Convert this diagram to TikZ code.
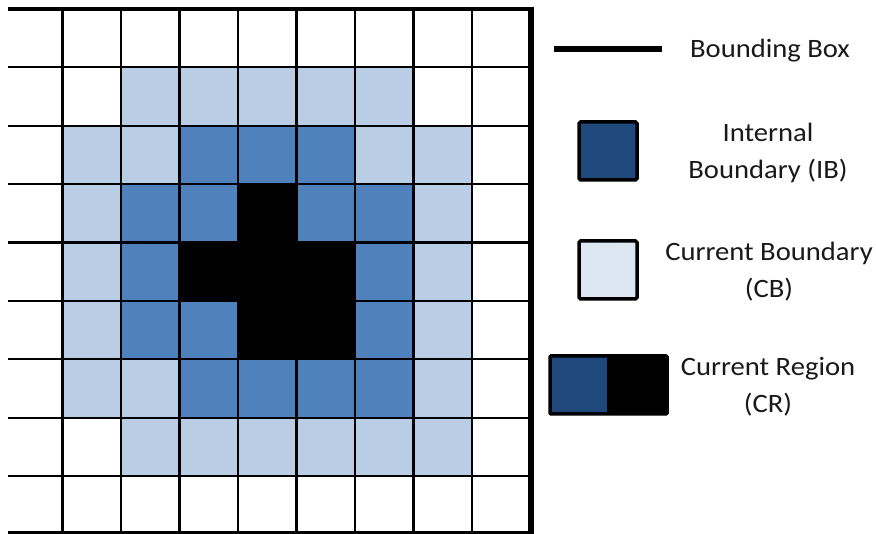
\documentclass[tikz,border=0pt]{standalone}
\usepackage{fontspec}
\setmainfont{Carlito}[FakeStretch=1.08]
\definecolor{lightb}{HTML}{B9CDE5}
\definecolor{medb}{HTML}{4F81BD}
\definecolor{darkb}{HTML}{1F497D}
\definecolor{palb}{HTML}{DCE6F2}
\tikzset{
  gridline/.style={line width=2.2pt, black},
  legtext/.style={align=center, font=\fontsize{26.5}{37}\selectfont, text=black!90},
  legbox/.style={draw=black, line width=3.5pt, rounded corners=1.5pt, minimum width=58pt, minimum height=58pt, inner sep=0pt}
}
\newcommand{\cellfill}[3]{\fill[#3] ({4+58.5*#2},{9+58.375*#1}) rectangle ({4+58.5*(#2+1)},{9+58.375*(#1+1)});}
\begin{document}
\begin{tikzpicture}[x=1pt,y=-1pt]
\useasboundingbox (0,0) rectangle (876,534);
% light cells
\foreach \r/\c in {1/2,1/3,1/4,1/5,1/6,
  2/1,2/2,2/6,2/7,
  3/1,3/7, 4/1,4/7, 5/1,5/7,
  6/1,6/2,6/7,
  7/2,7/3,7/4,7/5,7/6,7/7}{\cellfill{\r}{\c}{lightb}}
% medium cells
\foreach \r/\c in {2/3,2/4,2/5,
  3/2,3/3,3/5,3/6,
  4/2,4/6,
  5/2,5/3,5/6,
  6/3,6/4,6/5,6/6}{\cellfill{\r}{\c}{medb}}
% black cells
\foreach \r/\c in {3/4,4/3,4/4,4/5,5/4,5/5}{\cellfill{\r}{\c}{black}}
% grid lines
\foreach \r in {1,...,8}{\draw[gridline] (8,{9+58.375*\r}) -- (530.5,{9+58.375*\r});}
\foreach \c in {1,...,8}{\draw[gridline] ({4+58.5*\c},9) -- ({4+58.5*\c},533);}
\draw[line width=4pt] (8,9) -- (533.5,9);
\draw[line width=4pt] (8,532.5) -- (533.5,532.5);
\draw[line width=6pt] (530.5,7) -- (530.5,534);
% legend
\coordinate (bbA) at (554,49);
\coordinate (bbB) at (662,49);
\draw[line width=6pt] (bbA) -- (bbB);
\node[legtext] (bbtext) at (770,51) {Bounding Box};
\node[legtext] (ibtext) at (768,153) {Internal\\Boundary (IB)};
\node[legbox, fill=darkb] (ib) at (608,151) {};
\node[legbox, fill=palb] (cb) at (608,270) {};
\node[legtext] (cbtext) at (769,272) {Current Boundary\\(CB)};
\fill[darkb] (549,355) rectangle (607,415);
\fill[black] (607,355) rectangle (668,415);
\node[draw=black, line width=3.5pt, rounded corners=1pt, minimum width=117pt, minimum height=58pt, inner sep=0pt] (cr) at (608.5,385) {};
\node[legtext] (crtext) at (768,387) {Current Region\\(CR)};
\end{tikzpicture}
\end{document}
